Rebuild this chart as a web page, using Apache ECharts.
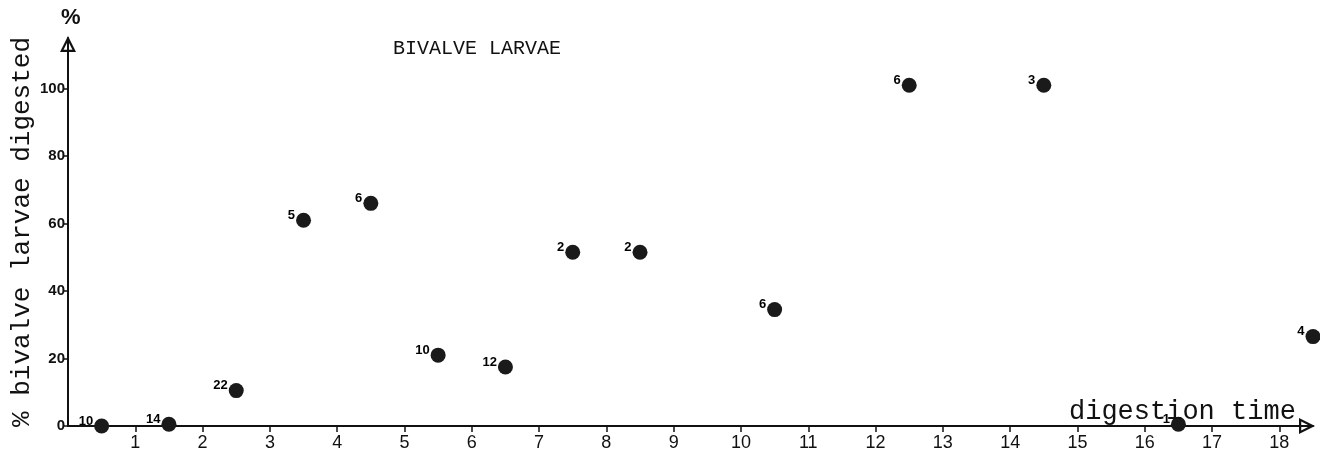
<!DOCTYPE html>
<html>
<head>
<meta charset="utf-8">
<script src="https://cdn.jsdelivr.net/npm/echarts@6/dist/echarts.min.js"></script>
<style>
  html, body { margin: 0; padding: 0; background: #fff; }
  #chart { width: 1320px; height: 466px; }
</style>
</head>
<body>
<div id="chart"></div>
<script>
// 消化时间（小时，半点处）
var hours = [0.5, 1.5, 2.5, 3.5, 4.5, 5.5, 6.5, 7.5, 8.5, 10.5, 12.5, 14.5, 16.5, 18.5];
// 已消化的双壳类幼虫百分比
var digested = [0, 0.5, 10.5, 61, 66, 21, 17.5, 51.5, 51.5, 34.5, 101, 101, 0.5, 26.5];
// 每个点的样本数
var counts = [10, 14, 22, 5, 6, 10, 12, 2, 2, 6, 6, 3, 1, 4];
// 刻度
var xTicks = [1, 2, 3, 4, 5, 6, 7, 8, 9, 10, 11, 12, 13, 14, 15, 16, 17, 18];
var yTicks = [0, 20, 40, 60, 80, 100];

var myChart = echarts.init(document.getElementById("chart"));

var points = hours.map(function (h, i) {
  return { value: [h, digested[i]], n: counts[i] };
});

// 空心箭头
var hollowArrow = "path://M5,0 L10,10 L0,10 Z M5,3.2 L2.2,8.6 L7.8,8.6 Z";
var mono = "'Liberation Mono', 'DejaVu Sans Mono', monospace";
var sans = "'Liberation Sans', Arial, sans-serif";

var option = {
  animation: false,
  title: [
    {
      text: "BIVALVE LARVAE",
      left: 388, top: 34,
      textStyle: { fontFamily: mono, fontSize: 20, fontWeight: "normal", color: "#111" }
    },
    {
      text: "digestion time",
      left: 1064, top: 393,
      textStyle: { fontFamily: mono, fontSize: 27, fontWeight: "normal", color: "#111" }
    },
    {
      text: "%",
      left: 56, top: 2,
      textStyle: { fontFamily: sans, fontSize: 22, fontWeight: "bold", color: "#111" }
    }
  ],
  grid: { left: 68, right: 7, top: 38, bottom: 40, containLabel: false, outerBoundsMode: "none" },
  xAxis: {
    type: "value",
    min: 0,
    max: 18.5,
    splitLine: { show: false },
    axisLine: {
      lineStyle: { color: "#111", width: 2 },
      symbol: ["none", hollowArrow],
      symbolSize: [16, 18],
      symbolOffset: [0, -6]
    },
    axisTick: {
      customValues: xTicks,
      length: 6,
      lineStyle: { color: "#111", width: 1.5 }
    },
    axisLabel: {
      customValues: xTicks,
      margin: 8,
      color: "#111",
      fontSize: 18,
      fontFamily: sans
    }
  },
  yAxis: {
    type: "value",
    min: 0,
    max: 115,
    name: "% bivalve larvae digested",
    nameLocation: "middle",
    nameRotate: 90,
    nameGap: 33,
    nameMoveOverlap: false,
    nameTextStyle: { fontFamily: mono, fontSize: 26, color: "#111" },
    splitLine: { show: false },
    axisLine: {
      lineStyle: { color: "#111", width: 2 },
      symbol: ["none", hollowArrow],
      symbolSize: [16, 18],
      symbolOffset: [0, -6]
    },
    axisTick: {
      customValues: yTicks,
      length: 5,
      lineStyle: { color: "#111", width: 1.5 }
    },
    axisLabel: {
      customValues: yTicks,
      margin: 3,
      color: "#111",
      fontSize: 15,
      fontWeight: "bold",
      fontFamily: sans
    }
  },
  series: [
    {
      type: "scatter",
      data: points,
      symbolSize: 15,
      itemStyle: { color: "#1a1a1a", opacity: 1 },
      emphasis: { disabled: true },
      label: {
        show: true,
        position: "left",
        distance: 1,
        offset: [0, -5],
        formatter: function (p) { return p.data.n; },
        color: "#000",
        opacity: 1,
        fontSize: 13,
        fontWeight: "bold",
        fontFamily: sans
      }
    }
  ]
};

myChart.setOption(option);
window.addEventListener("resize", function () {
  myChart.resize();
});
</script>
</body>
</html>
